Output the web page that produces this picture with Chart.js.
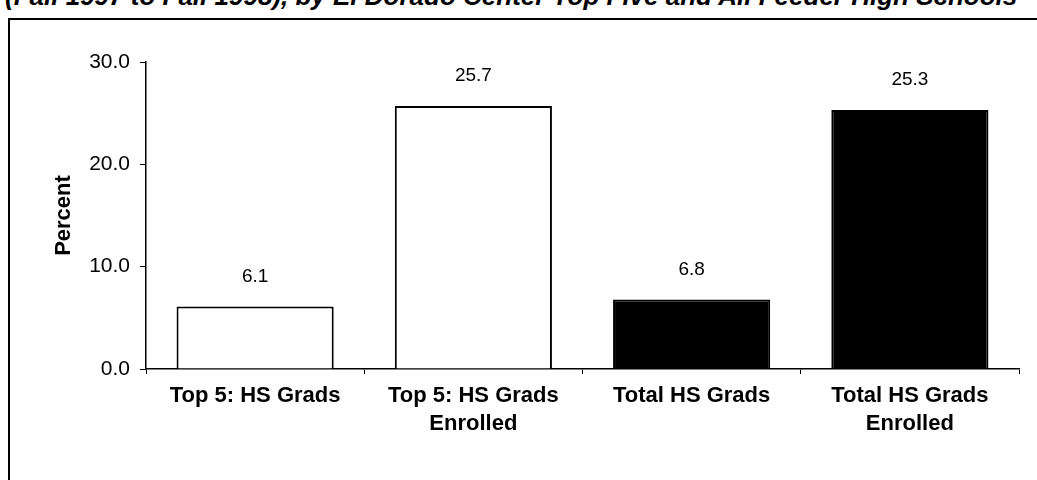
<!DOCTYPE html>
<html>
<head>
<meta charset="utf-8">
<script src="https://cdn.jsdelivr.net/npm/chart.js@4/dist/chart.umd.min.js"></script>
<style>
  body { margin: 0; background: #fff; overflow: hidden; }
  #wrap { position: relative; width: 1037px; height: 480px; }
  #title {
    position: absolute; left: 5px; top: -19px; white-space: nowrap;
    font: italic bold 26px "Liberation Sans", Arial, sans-serif; color: #000;
  }
  #frame {
    position: absolute; left: 8px; top: 18px; width: 1040px; height: 480px;
    border-left: 2px solid #000; border-top: 2px solid #000;
  }
  canvas { position: absolute; left: 0; top: 0; }
</style>
</head>
<body>
<div id="wrap">
  <div id="title">(Fall 1997 to Fall 1998), by El Dorado Center Top Five and All Feeder High Schools</div>
  <div id="frame"></div>
  <canvas id="chart" width="1037" height="480"></canvas>
</div>
<script>
/* data */
const categories = [['Top 5: HS Grads'], ['Top 5: HS Grads', 'Enrolled'], ['Total HS Grads'], ['Total HS Grads', 'Enrolled']];
const percents = [6.1, 25.7, 6.8, 25.3];
const yTicks = [0, 10, 20, 30];
const barFills = ['#ffffff', '#ffffff', '#000000', '#000000'];

const baseFont = '"Liberation Sans", Arial, sans-serif';

// value labels over bars
const valueLabels = {
    id: 'valueLabels',
    afterDatasetsDraw(chart) {
        const ctx = chart.ctx;
        const meta = chart.getDatasetMeta(0);
        ctx.save();
        ctx.font = '19px ' + baseFont;
        ctx.fillStyle = '#000';
        ctx.textAlign = 'center';
        ctx.textBaseline = 'middle';
        meta.data.forEach((bar, i) => {
            ctx.fillText(percents[i].toFixed(1), bar.x, bar.y - 30);
        });
        ctx.restore();
    }
};

new Chart(document.getElementById('chart'), {
    type: 'bar',
    data: {
        labels: categories,
        datasets: [{
            data: percents,
            backgroundColor: barFills,
            borderColor: '#000',
            borderWidth: 2,
            borderSkipped: 'bottom',
            barPercentage: 0.8,
            categoryPercentage: 0.9
        }]
    },
    options: {
        responsive: false,
        animation: false,
        layout: { padding: { left: 50, right: 18, top: 62, bottom: 0 } },
        scales: {
            x: {
                afterFit: (scale) => { scale.height = 111; },
                grid: {
                    display: true,
                    drawOnChartArea: false,
                    offset: true,
                    color: '#000',
                    tickLength: 5,
                    lineWidth: 1
                },
                border: { display: true, color: '#000', width: 1.5 },
                ticks: {
                    color: '#000',
                    padding: 8,
                    maxRotation: 0,
                    autoSkip: false,
                    font: { family: baseFont, size: 22, weight: 'bold', lineHeight: 1.27 }
                }
            },
            y: {
                min: 0,
                max: 30,
                afterFit: (scale) => { scale.width = 96; },
                afterBuildTicks: (scale) => {
                    scale.ticks = yTicks.map(v => ({ value: v }));
                },
                grid: {
                    display: true,
                    drawOnChartArea: false,
                    color: '#000',
                    tickLength: 6,
                    lineWidth: 1
                },
                border: { display: true, color: '#000', width: 1.5 },
                ticks: {
                    color: '#000',
                    padding: 10,
                    callback: (v) => v.toFixed(1),
                    font: { family: baseFont, size: 21 }
                },
                title: {
                    display: true,
                    text: 'Percent',
                    color: '#000',
                    padding: { top: 1, bottom: 0 },
                    font: { family: baseFont, size: 22, weight: 'bold' }
                }
            }
        },
        plugins: {
            legend: { display: false },
            tooltip: { enabled: false }
        }
    },
    plugins: [valueLabels]
});
</script>
</body>
</html>
